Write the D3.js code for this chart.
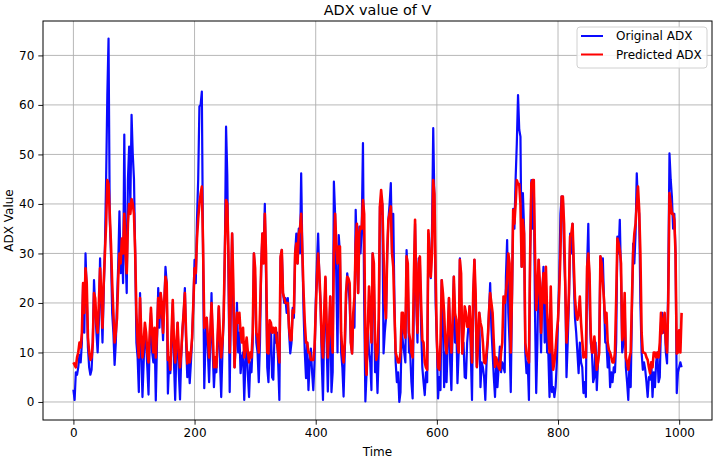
<!DOCTYPE html>
<html><head><meta charset="utf-8">
<script src="https://cdn.jsdelivr.net/npm/d3@7"></script>
<style>
body{margin:0;background:#fff}
text{font-family:"DejaVu Sans",sans-serif;fill:#000}
</style>
</head><body>
<svg id="chart" width="717" height="459"></svg>
<script>
// ---- data ----
const timeStep = 2; // sample spacing along the Time axis
const originalADX = [
2.5,0.4,6,5.5,7,9.5,8,12,24,14,30,22,11,7,5.5,6.5,12,24.6,19,14,
10,16,29,20,12,22,31,45,62,73.4,37,30,18,14,7.5,12,20,28,38.5,26,
32,24,54,30,22,45,51.6,40,58,50,45,30,12,9,2,22,10,1,8,15,
12,7,1.5,12,18,10,8,14,0.3,12,23,15,22,18,12.5,20,27.3,24,1.7,8,
5.8,12,20,8,0.4,10,16,6,0.5,9,14.5,18,23,12,5,9,3.8,8,13,20,
28.7,24,36.8,45,59.7,60,62.7,30,2.8,12,17,10,4,12,22,10,3,8,6,12,
19,8,1,10,17,30,55.6,46,25,2,20,34,18,7,12,20,10,14,5.8,9,
10,0.4,8,12,5.5,1,8,6,12,30,25,12,10,4,12,27,34,30,40,25,
7,4,12,16,5,4.5,14,12,14,8,0.4,29,30.7,22,20,21,18,21,14,9.8,
12,19,17,30,34,28,35,30,46.2,30,18,10,4.8,12,2.4,8,10.8,6,2.4,8,
20,28,34,25,20,8,0.4,15,25,12,2.1,12,21.3,2,6,44.5,38,25,10,33.7,
30,10,7,1.1,10,20,26,24,20,12,9.8,18,15,38.8,30,22,35.4,30,35.4,52.3,
20,0.1,6,15,10,8,2.4,30,25,6,10,1.8,10,39.5,38,40,9.8,14,16.9,30,
36.8,40,44.2,30,38,20,8,4,6,0,2,15,12,10,8,30.7,25,10,9.8,4,
0.7,20,36,20,12,29,28,15,7,4,1.4,6,4,34,28,25,35,55.3,40,20,
12,0.7,5,2.4,24.6,18,3,10,4,12,21,8,2.4,15,25.3,12,16.6,3.8,10,29,
20,9.8,12,5,4.8,12,15.2,19.3,10,0.4,20,28.7,18,7,12,18,3,8,7,5,
0.4,8,12.5,18,24,15,10,5,1,8,3,7,11.2,6,8,7,6,25.3,32.7,18,
12,2,20,39,35,45,52.3,62,55,53.6,27.3,42.2,35,10,5.8,8,0.4,30,44.8,35,
44.8,18,1.8,12,28.7,20,10,22,27.3,12,25,10,9.8,1,12,2,3,1,3,8,
16.6,25,38,41.5,41.5,30,23.3,5,12,20,34,30,36,25,17,14,10,5.8,12,8,
7,1.8,4,1,27.3,36,20,12,10,4,5,12,2.4,8,12,29.4,28,29,20,12,
12,7,10,3,6,4,7,6,12,33.4,30,36.8,25,10,12,20,7,4,0.4,8,
3,18,32,28,34,46.2,40,38,20,10,6.5,8,6.5,4,1,5,4.5,8,1,6,
3,8,10,4,5,16,18,14,17.5,10,7.8,25,50.2,45,41.5,35,38,30,1.8,6,
7,8,7];
const predictedADX = [
8,7.5,7,9,10,12,11,14,24,18,27,24,13,10,8.5,9,12,22,21,16,
14,20,27,22,15,24,30,36,44.8,44,38,32,24,18,12,14,17,25,30,28,
33,30,38,30,26,36,40,38,41,40,38,30,18,12,9,21,14,9,12,16,
14,10,8,14,19,14,10,15,9,14,21,17,22,20,14,20,25.3,24,8.5,9,
6.5,14,20.6,12,8,12,16,10,7,10,14.5,18,22,14,7.8,10,8,10,13,20,
27,26,33,37,40,42,43.5,32,15,16,17,13,9,14,20,14,7,9,7,13,
19.3,13,9,12,17,30,40.8,40,30,10,22,34,24,7,14,18,16,18,14,12,
15,9,11,13,10,8,10,9,14,30,27,14,13,10,18,27.3,34,28,38,30,
10,9.8,16.5,16,14,15,14,15,12,10,8,29.4,30.7,22,21,20,20,20,15,12.5,
12.5,18.5,18,30,32,28,34,35,38,30,22,16,12,12,10,10,8.5,8.5,8.5,11,
18,25,30,26,20,12,9,18,25.3,16,9,14,21.3,14,10,30,38,32,28,31.4,
31.4,14,10,8,12,22,25.3,25,24,12,9.8,18,21.3,32,36,22,34,35.4,35,40.8,
38,10,5.5,15,23.3,18,12,30,28,12,8.5,10,17,39.5,42.8,40,30,20,16.9,30,
36.8,38,39.5,30,27.3,18,10,9,8,8,10,18,18,14,13,29.4,28,14,12.5,10,
9,25,36.8,22,14,28,29.4,20,12.5,12,8,7,6.5,34.7,30,25.3,30,44.8,42,25,
12.5,7,6.5,12,24.6,22,18,12,9.8,14,21,14,10,16,25.3,18,16.6,12,10,28.7,
26,9.8,14,19.3,18,15.2,15.2,19.3,14,8,22,28.7,22,7.1,12,18,16,15,12,8,
7.8,10,12.5,18,22,20,18,12,7.1,9,8,7,6.5,10,12,21.3,20,22,25,30,
28,10,22,38.8,36,40,44.8,44,44,40,27.3,36.8,34,12,9.8,9,8,30,44.2,44.8,
44.8,30,18.6,22,28.7,24,14,22,26,20,27.3,18,14,10,23.3,12,6.5,8,10.5,14,
16.6,22,30,41.5,41.5,36,23.3,12,16,22,33.4,34,36,28,21,18,16.6,18,21.3,16,
12.5,9,10,9,27.3,30,26,14,10,10,13.2,10,6.5,8,10,29.4,28,24,20.6,16,
18,12,10.5,10,9,8,8,10,20.6,33,32,30.7,28,12.5,14,22,9,8,6.5,9,
10,20.6,30,34,36,40,43.5,38.8,30,14,10,10,9.8,9,8.5,7,5.8,8,7,10,
10,9,10,9,12,18,13.9,16,18,12,10,20,42.2,40,38,38,36.8,30,9.8,10,
14.5,10,18];
const seriesNames = ["Original ADX", "Predicted ADX"];
const seriesColors = ["#0a0aff", "#ff0000"];
const xTicks = [0, 200, 400, 600, 800, 1000];
const yTicks = [0, 10, 20, 30, 40, 50, 60, 70];
const titleText = "ADX value of V";
const xLabel = "Time";
const yLabel = "ADX Value";

// ---- layout ----
const svg = d3.select("#chart");
const L = 43, R = 712, T = 21, B = 420;
const x = d3.scaleLinear().domain([-50.2, 1054.2]).range([L, R]);
const y = d3.scaleLinear().domain([-3.64, 76.95]).range([B, T]);

// grid
const g = svg.append("g");
g.selectAll("line.vg").data(xTicks).join("line")
  .attr("x1", d => x(d)).attr("x2", d => x(d)).attr("y1", T).attr("y2", B)
  .attr("stroke", "#b0b0b0").attr("stroke-width", 0.9);
g.selectAll("line.hg").data(yTicks).join("line")
  .attr("x1", L).attr("x2", R).attr("y1", d => y(d)).attr("y2", d => y(d))
  .attr("stroke", "#b0b0b0").attr("stroke-width", 0.9);

// lines
const series = [originalADX, predictedADX];
const widths = [2.2, 2.6];
const line = d3.line().x((d, i) => x(i * timeStep)).y(d => y(d));
series.forEach((s, k) => {
  svg.append("path").datum(s).attr("d", line)
    .attr("fill", "none").attr("stroke", seriesColors[k])
    .attr("stroke-width", widths[k]).attr("stroke-linejoin", "round");
});

// axes
const xa = svg.append("g").attr("transform", `translate(0,${B})`)
  .call(d3.axisBottom(x).tickValues(xTicks).tickSize(4.7).tickPadding(3.5).tickFormat(d3.format("d")));
const ya = svg.append("g").attr("transform", `translate(${L},0)`)
  .call(d3.axisLeft(y).tickValues(yTicks).tickSize(4.7).tickPadding(4).tickFormat(d3.format("d")));
[xa, ya].forEach(a => {
  a.select(".domain").remove();
  a.selectAll("text").attr("font-size", 12).attr("font-family", "DejaVu Sans").attr("fill", "#000");
  a.selectAll("line").attr("stroke", "#000").attr("stroke-width", 0.9);
});

// frame
svg.append("rect").attr("x", L).attr("y", T).attr("width", R - L).attr("height", B - T)
  .attr("fill", "none").attr("stroke", "#000").attr("stroke-width", 1);

// title & labels
svg.append("text").attr("x", (L + R) / 2).attr("y", 14.5).attr("text-anchor", "middle")
  .attr("font-size", 14.4).text(titleText);
svg.append("text").attr("x", (L + R) / 2).attr("y", 456).attr("text-anchor", "middle")
  .attr("font-size", 12).text(xLabel);
svg.append("text").attr("transform", `translate(12.5,${(T + B) / 2}) rotate(-90)`)
  .attr("text-anchor", "middle").attr("font-size", 12).text(yLabel);

// legend
const lg = svg.append("g");
lg.append("rect").attr("x", 577).attr("y", 27).attr("width", 130).attr("height", 41)
  .attr("rx", 3).attr("fill", "#fff").attr("fill-opacity", 0.85)
  .attr("stroke", "#d0d0d0").attr("stroke-width", 1);
seriesNames.forEach((n, k) => {
  const yy = 36 + k * 18.5;
  lg.append("line").attr("x1", 581).attr("x2", 603).attr("y1", yy).attr("y2", yy)
    .attr("stroke", seriesColors[k]).attr("stroke-width", 2);
  lg.append("text").attr("x", 616).attr("y", yy + 4.3).attr("font-size", 12).text(n);
});
</script>
</body></html>
